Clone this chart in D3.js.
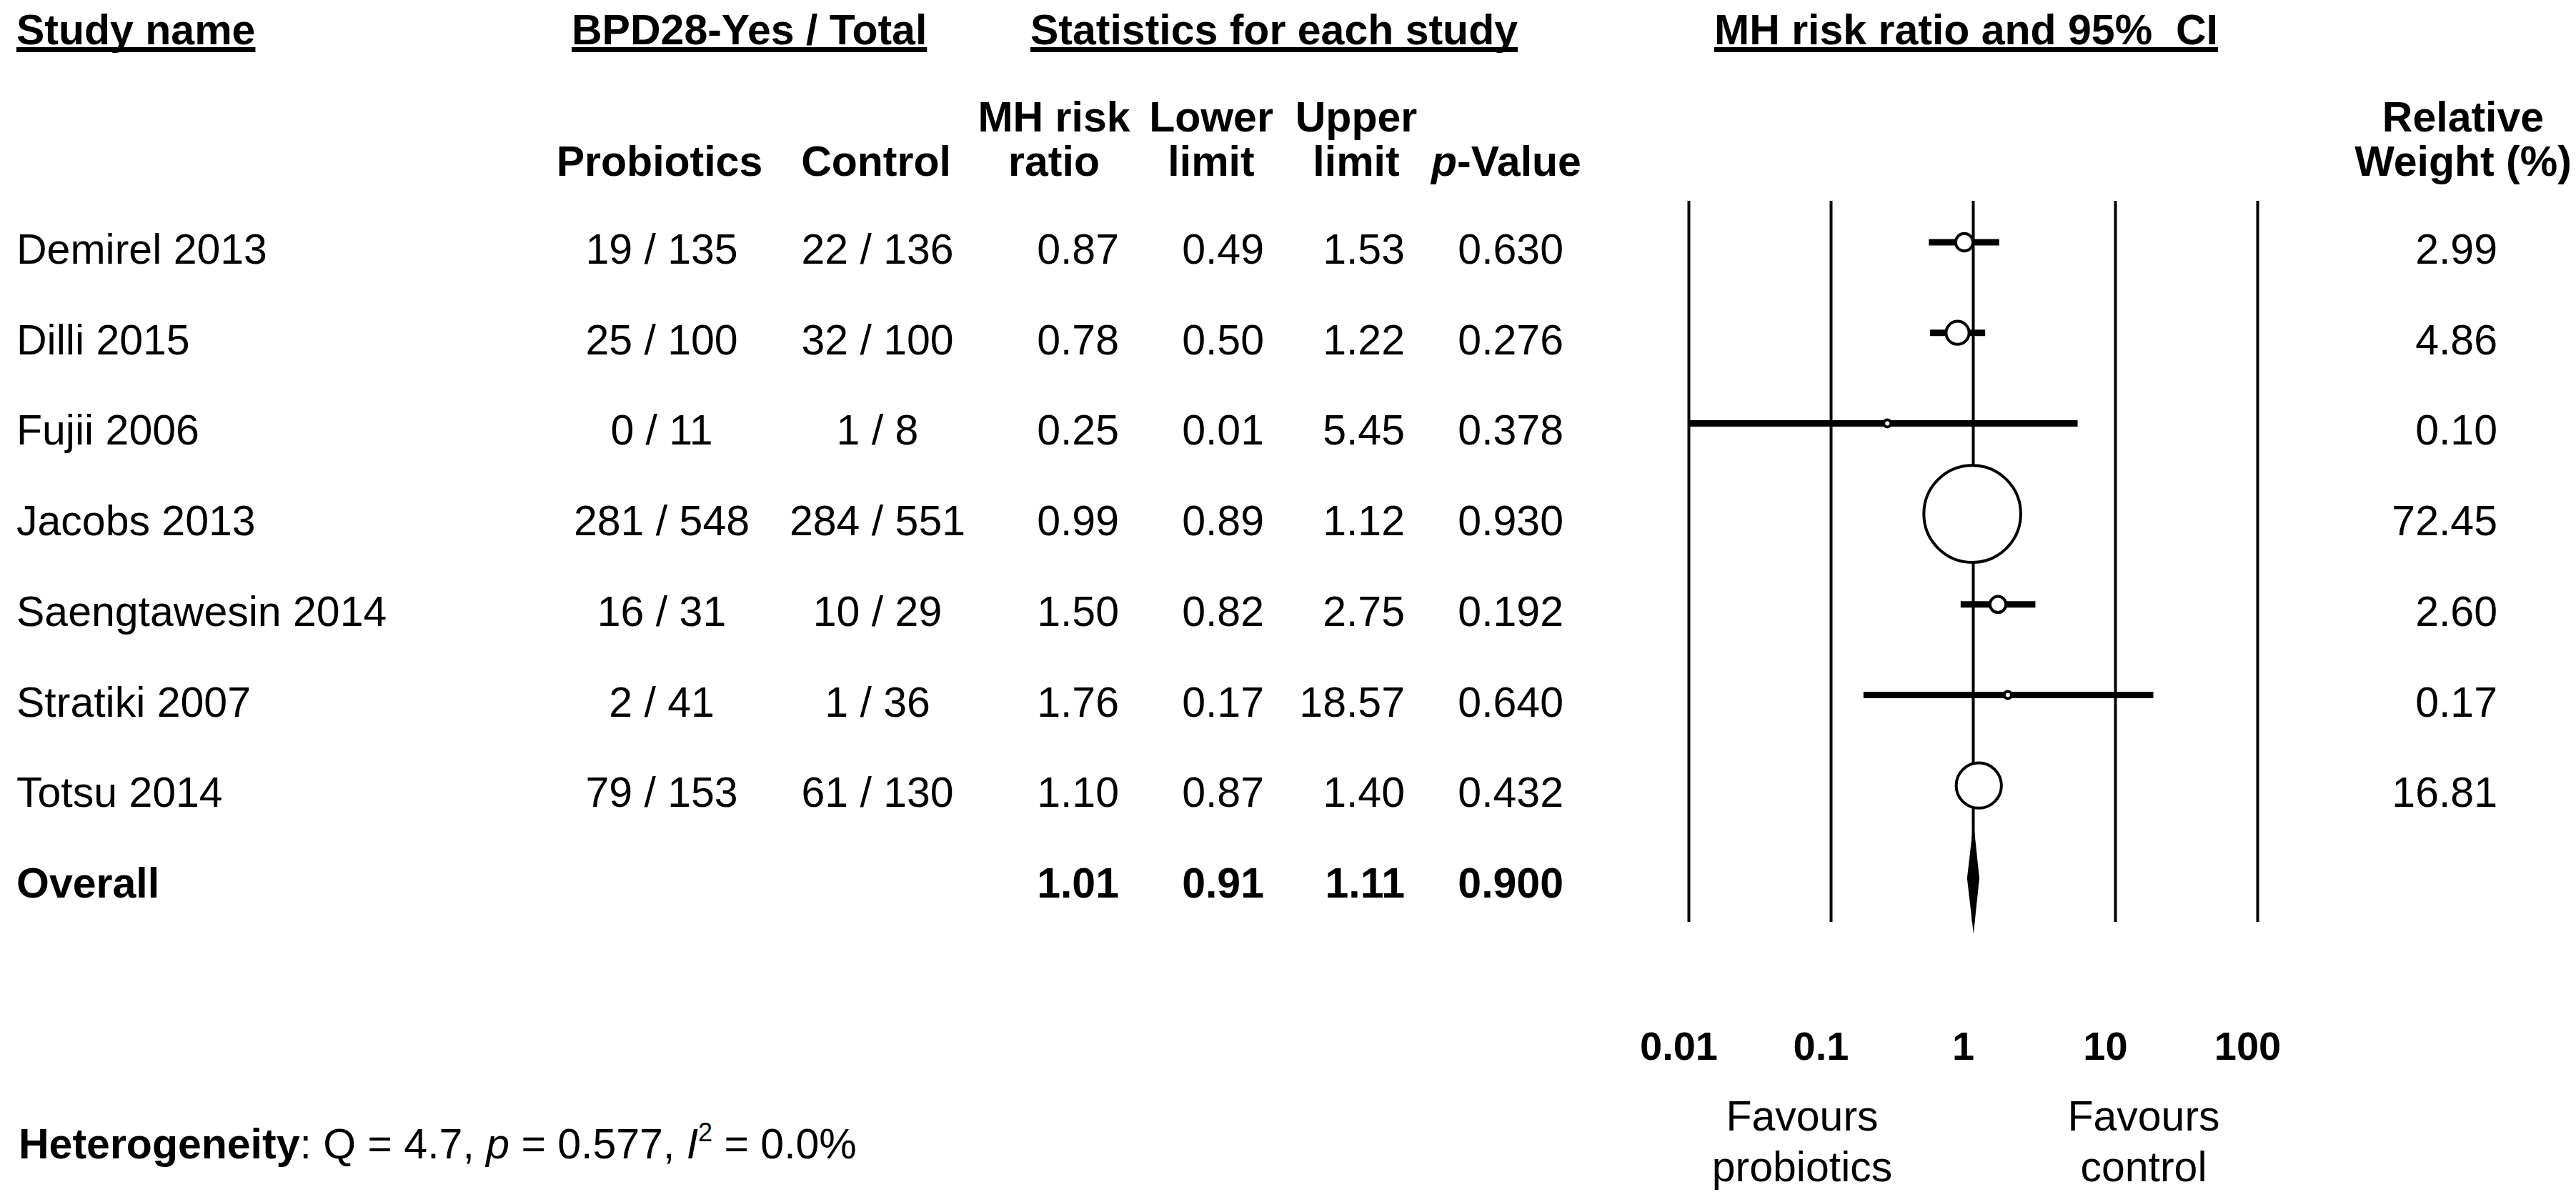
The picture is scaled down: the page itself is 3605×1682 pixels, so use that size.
<!DOCTYPE html>
<html>
<head>
<meta charset="utf-8">
<script src="https://cdn.jsdelivr.net/npm/d3@7"></script>
<style>
    body { margin: 0; background: #fff; }
    svg text { font-family: "Liberation Sans", Arial, sans-serif; fill: #000; }
</style>
</head>
<body>
<div id="wrapper"></div>
<script>
// data
const studies = ["Demirel 2013", "Dilli 2015", "Fujii 2006", "Jacobs 2013", "Saengtawesin 2014", "Stratiki 2007", "Totsu 2014"];
const probioticsEvents = [19, 25, 0, 281, 16, 2, 79];
const probioticsTotal = [135, 100, 11, 548, 31, 41, 153];
const controlEvents = [22, 32, 1, 284, 10, 1, 61];
const controlTotal = [136, 100, 8, 551, 29, 36, 130];
const riskRatio = [0.87, 0.78, 0.25, 0.99, 1.50, 1.76, 1.10];
const lowerLimit = [0.49, 0.50, 0.01, 0.89, 0.82, 0.17, 0.87];
const upperLimit = [1.53, 1.22, 5.45, 1.12, 2.75, 18.57, 1.40];
const pValue = [0.630, 0.276, 0.378, 0.930, 0.192, 0.640, 0.432];
const relWeight = [2.99, 4.86, 0.10, 72.45, 2.60, 0.17, 16.81];
const overallStats = [1.01, 0.91, 1.11, 0.900]; // rr, lower, upper, p
const axisTicks = [0.01, 0.1, 1, 10, 100];

let wSvg = 3605;
let hSvg = 1682;
let fs = 59;

let svg = d3.select("#wrapper")
    .append("svg")
    .attr("width", wSvg)
    .attr("height", hSvg);

// row baselines, marks sit a bit above the text
let rowY = d3.scaleLinear().domain([0, 7]).range([369, 369 + 7 * 126.7]);
let markY = i => rowY(i) - 30;

let xScale = d3.scaleLog().domain([0.01, 100]).range([2363, 3159]);

let gridTop = 281;
let gridBottom = 1290;

// ---- top headers (underlined)
let topHeaders = [
    { text: "Study name", x: 23 },
    { text: "BPD28-Yes / Total", x: 800 },
    { text: "Statistics for each study", x: 1442 },
    { text: "MH risk ratio and 95%\u00a0 CI", x: 2399 }
];

topHeaders.forEach(h => {
    let t = svg.append("text")
        .attr("x", h.x)
        .attr("y", 62)
        .attr("font-size", fs)
        .attr("font-weight", "bold")
        .text(h.text);
    let len = t.node().getComputedTextLength();
    svg.append("line")
        .attr("x1", h.x).attr("x2", h.x + len)
        .attr("y1", 69.5).attr("y2", 69.5)
        .attr("stroke", "#000")
        .attr("stroke-width", 7);
});

// ---- column sub headers
let subHeaders = [
    { lines: ["Probiotics"], x: 923 },
    { lines: ["Control"], x: 1226 },
    { lines: ["MH risk", "ratio"], x: 1475 },
    { lines: ["Lower", "limit"], x: 1695 },
    { lines: ["Upper", "limit"], x: 1898 },
    { lines: ["Relative", "Weight (%)"], x: 3447 }
];

subHeaders.forEach(h => {
    let start = h.lines.length === 2 ? 184 : 246;
    h.lines.forEach((line, k) => {
        svg.append("text")
            .attr("x", h.x)
            .attr("y", start + k * 62)
            .attr("text-anchor", "middle")
            .attr("font-size", fs)
            .attr("font-weight", "bold")
            .text(line);
    });
});

let pHead = svg.append("text")
    .attr("x", 2108)
    .attr("y", 246)
    .attr("text-anchor", "middle")
    .attr("font-size", fs)
    .attr("font-weight", "bold");
pHead.append("tspan").attr("font-style", "italic").text("p");
pHead.append("tspan").text("-Value");

// ---- table body
let f2 = d3.format(".2f");
let f3 = d3.format(".3f");

let columns = [
    { x: 23, anchor: "start", value: i => studies[i] },
    { x: 926, anchor: "middle", value: i => `${probioticsEvents[i]} / ${probioticsTotal[i]}` },
    { x: 1228, anchor: "middle", value: i => `${controlEvents[i]} / ${controlTotal[i]}` },
    { x: 1566, anchor: "end", value: i => f2(riskRatio[i]) },
    { x: 1769, anchor: "end", value: i => f2(lowerLimit[i]) },
    { x: 1966, anchor: "end", value: i => f2(upperLimit[i]) },
    { x: 2188, anchor: "end", value: i => f3(pValue[i]) },
    { x: 3495, anchor: "end", value: i => f2(relWeight[i]) }
];

columns.forEach(col => {
    svg.append("g")
        .selectAll("text")
        .data(studies.map((d, i) => i))
        .enter()
        .append("text")
        .attr("x", col.x)
        .attr("y", i => rowY(i))
        .attr("text-anchor", col.anchor)
        .attr("font-size", fs)
        .text(i => col.value(i));
});

// overall row
svg.append("text")
    .attr("x", 23)
    .attr("y", rowY(7))
    .attr("font-size", fs)
    .attr("font-weight", "bold")
    .text("Overall");

let overallX = [1566, 1769, 1966, 2188];
svg.append("g")
    .selectAll("text")
    .data(overallStats)
    .enter()
    .append("text")
    .attr("x", (d, i) => overallX[i])
    .attr("y", rowY(7))
    .attr("text-anchor", "end")
    .attr("font-size", fs)
    .attr("font-weight", "bold")
    .text((d, i) => i === 3 ? f3(d) : f2(d));

// ---- vertical reference lines + tick labels
let gridAxis = d3.axisBottom(xScale)
    .tickValues(axisTicks)
    .tickFormat(d3.format("~g"))
    .tickSizeInner(-(gridBottom - gridTop))
    .tickSizeOuter(0)
    .tickPadding(153);

let gAxis = svg.append("g")
    .attr("transform", `translate(0,${gridBottom})`)
    .call(gridAxis);

gAxis.select(".domain").remove();
gAxis.selectAll(".tick line")
    .attr("stroke", "#000")
    .attr("stroke-width", 4);
gAxis.selectAll(".tick text")
    .attr("font-size", 56)
    .attr("font-weight", "bold")
    .attr("dx", -14);

// ---- confidence intervals
svg.append("g")
    .selectAll("line")
    .data(studies.map((d, i) => i))
    .enter()
    .append("line")
    .attr("x1", i => xScale(lowerLimit[i]))
    .attr("x2", i => xScale(upperLimit[i]))
    .attr("y1", i => markY(i))
    .attr("y2", i => markY(i))
    .attr("stroke", "#000")
    .attr("stroke-width", 9);

// point estimates, size by relative weight
let rScale = d3.scaleSqrt()
    .domain([0, d3.max(relWeight)])
    .range([0, 8.2 * Math.sqrt(d3.max(relWeight))]);

svg.append("g")
    .selectAll("circle")
    .data(studies.map((d, i) => i))
    .enter()
    .append("circle")
    .attr("cx", i => xScale(riskRatio[i]))
    .attr("cy", i => markY(i))
    .attr("r", i => Math.max(5, rScale(relWeight[i]) - 2))
    .attr("fill", "#fff")
    .attr("stroke", "#000")
    .attr("stroke-width", 4);

// summary diamond
let dy = markY(7) + 3;
let dh = 78;
let diamond = [
    [xScale(overallStats[1]), dy],
    [xScale(overallStats[0]), dy - dh],
    [xScale(overallStats[2]), dy],
    [xScale(overallStats[0]), dy + dh]
];
svg.append("path")
    .attr("d", d3.line()(diamond) + "Z")
    .attr("fill", "#000");

// ---- favours labels
let favours = [
    { lines: ["Favours", "probiotics"], x: 2522 },
    { lines: ["Favours", "control"], x: 3000 }
];
favours.forEach(f => {
    f.lines.forEach((line, k) => {
        svg.append("text")
            .attr("x", f.x)
            .attr("y", 1582 + k * 71)
            .attr("text-anchor", "middle")
            .attr("font-size", fs)
            .text(line);
    });
});

// ---- heterogeneity note
let het = svg.append("text")
    .attr("x", 26)
    .attr("y", 1621)
    .attr("font-size", fs);
het.append("tspan").attr("font-weight", "bold").text("Heterogeneity");
het.append("tspan").text(": Q = 4.7, ");
het.append("tspan").attr("font-style", "italic").text("p");
het.append("tspan").text(" = 0.577, ");
het.append("tspan").attr("font-style", "italic").text("I");
het.append("tspan").attr("font-size", 36).attr("dy", -24).text("2");
het.append("tspan").attr("dy", 24).text(" = 0.0%");
</script>
</body>
</html>
